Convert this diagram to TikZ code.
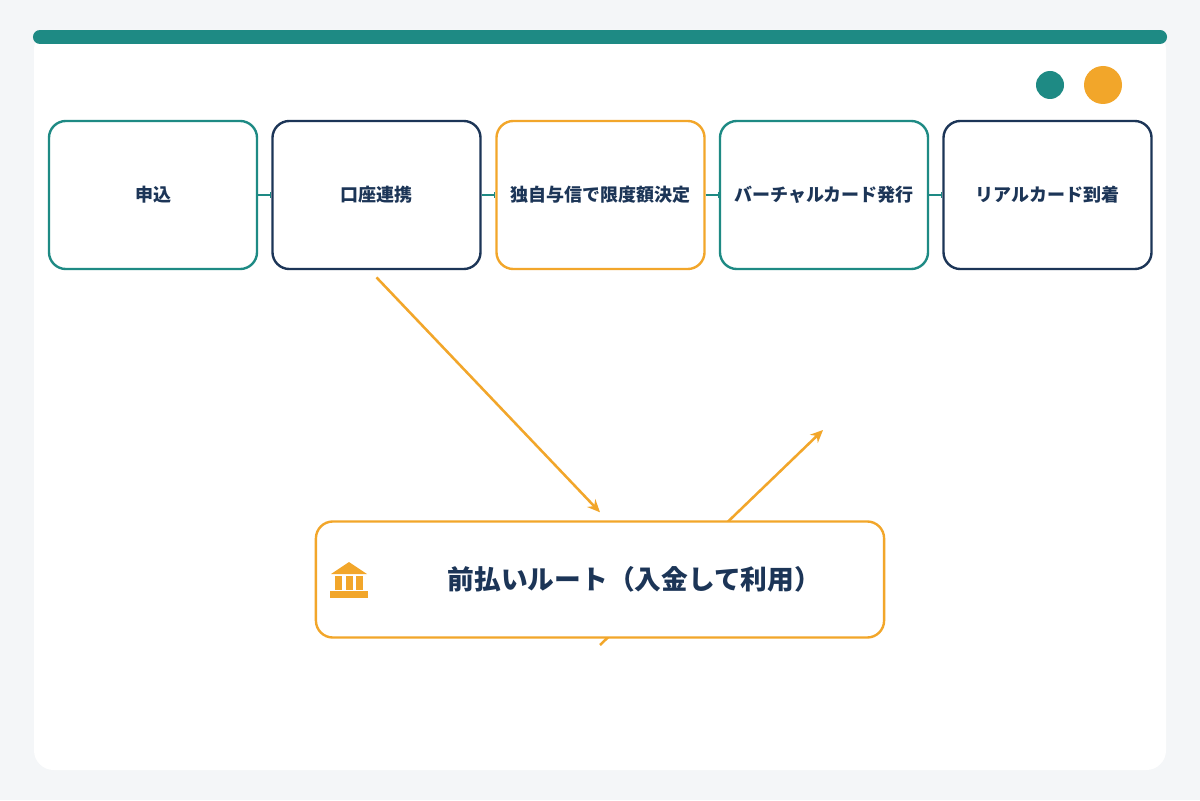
\documentclass[tikz,border=0pt]{standalone}
\usepackage{fontspec}
\setmainfont{Noto Sans CJK JP}
\usetikzlibrary{arrows.meta, positioning}
\definecolor{colTeal}{HTML}{1E8A84}
\definecolor{colNavy}{HTML}{1C3557}
\definecolor{colOrange}{HTML}{F2A62A}
\definecolor{colBack}{HTML}{F4F6F8}

\tikzset{
    stage/.style={draw, line width=1.7pt, rounded corners=12pt, fill=white,
        minimum width=5.2cm, minimum height=3.7cm, inner sep=0pt,
        text=colNavy, font=\fontsize{12.8}{14}\selectfont\bfseries},
    link/.style={colTeal, line width=0.8pt, -{Bar[width=4pt]}},
    flow/.style={colOrange, line width=1.8pt, -{Stealth[length=9pt,width=8pt]}}
}

\begin{document}
\begin{tikzpicture}[x=0.025cm, y=-0.025cm]
    \useasboundingbox (0,0) rectangle (1200,800);
    \fill[colBack] (0,0) rectangle (1200,800);
    \fill[white, rounded corners=14pt] (34,30) rectangle (1166,770);
    \draw[colTeal, line width=10pt, line cap=round] (40,37) -- (1160,37);
    \fill[colTeal] (1050,85) circle (14);
    \fill[colOrange] (1103,85) circle (19);

    % --- stages ---
    \node[stage, draw=colTeal] (apply) at (153,195) {申込};
    \node[stage, draw=colNavy] (bank) at (376.5,195) {口座連携};
    \node[stage, draw=colOrange] (limit) at (600.5,195) {独自与信で限度額決定};
    \node[stage, draw=colTeal] (virtual) at (824,195) {バーチャルカード発行};
    \node[stage, draw=colNavy] (real) at (1047.5,195) {リアルカード到着};
    \foreach \a/\b in {apply/bank, bank/limit, limit/virtual, virtual/real} {
        \draw[link] (\a.east) -- (\b.west);
    }

    % --- prepaid route ---
    \coordinate (out) at (600,645);
    \coordinate (up) at (823,430);
    \draw[flow] (out) -- (up);
    \node[stage, draw=colOrange, minimum width=14.2cm, minimum height=2.9cm] (prepaid) at (600,579.5) {};
    \node[text=colNavy, font=\fontsize{19}{22}\selectfont\bfseries, right=3.2cm of prepaid.west] (route)
        {前払いルート（入金して利用）};
    \coordinate[below=0.18cm of bank.south] (from);
    \coordinate[above=0.2cm of prepaid.north] (into);
    \draw[flow] (from) -- (into);
    % bank icon
    \begin{scope}[shift={(349,580)}, colOrange]
        \fill (-18,-6) -- (0,-18) -- (18,-6) -- cycle;
        \foreach \x in {-14,-3.5,7} { \fill (\x,-4) rectangle (\x+7,10); }
        \fill (-19,11) rectangle (19,18);
    \end{scope}
\end{tikzpicture}
\end{document}
